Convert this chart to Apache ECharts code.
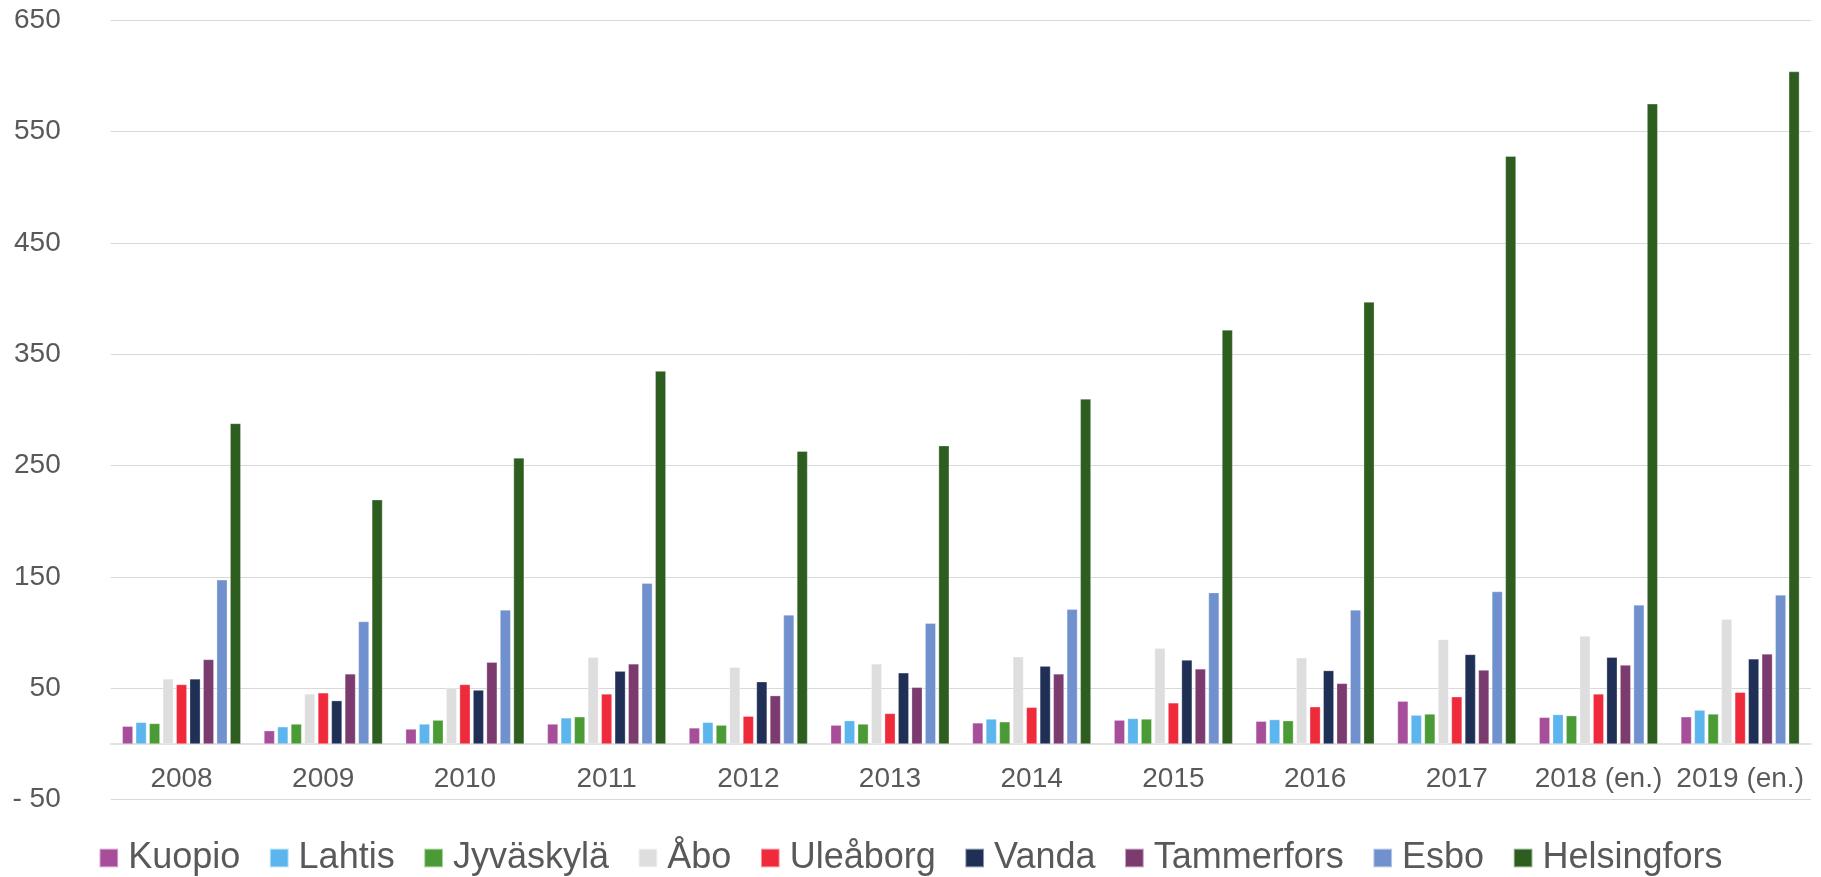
<!DOCTYPE html>
<html>
<head>
<meta charset="utf-8">
<script src="https://cdn.jsdelivr.net/npm/echarts@6/dist/echarts.min.js"></script>
<style>
html,body{margin:0;padding:0;background:#fff;}
#chart{width:1821px;height:877px;}
</style>
</head>
<body>
<div id="chart"></div>
<script>
const categories = ['2008','2009','2010','2011','2012','2013','2014','2015','2016','2017','2018 (en.)','2019 (en.)'];
const seriesNames = ['Kuopio','Lahtis','Jyväskylä','Åbo','Uleåborg','Vanda','Tammerfors','Esbo','Helsingfors'];
const kuopio      = [16, 12, 13.5, 18, 14.5, 17, 19, 21.5, 20.5, 38.5, 24, 24.5];
const lahtis      = [19.5, 15.5, 18, 23.5, 19.5, 21, 22.5, 23, 22, 26, 26.5, 30.5];
const jyvaskyla   = [18.5, 18, 21.5, 24.5, 17, 18, 20, 22.5, 21, 27, 25.5, 27];
const abo         = [58.5, 45, 50.5, 78, 69, 72, 78.5, 86, 77.5, 94, 97, 112];
const uleaborg    = [53.5, 46, 53.5, 45, 25, 27.5, 33, 37, 33.5, 42.5, 45, 46.5];
const vanda       = [58.5, 39, 48.5, 65.5, 56, 64, 70, 75.5, 66, 80.5, 78, 76.5];
const tammerfors  = [76, 63, 73.5, 72, 43.5, 51, 63, 67.5, 54.5, 66.5, 71, 81];
const esbo        = [147.5, 110, 120.5, 144.5, 116, 108.5, 121, 136, 120.5, 137, 125, 134];
const helsingfors = [288, 219.5, 257, 335, 263, 268, 310, 372, 397, 528, 575, 604];
const yTicks = {min: -50, max: 650, interval: 100};

const colors = ['#A64E9A','#5CB5EC','#4A9B36','#DEDEDE','#EE2A3B','#1F2F55','#7B3B6F','#7191CE','#2D5E20'];
const dataSets = [kuopio, lahtis, jyvaskyla, abo, uleaborg, vanda, tammerfors, esbo, helsingfors];
const FONT = '"Liberation Sans", Arial, sans-serif';

const chart = echarts.init(document.getElementById('chart'));
chart.setOption({
  animation: false,
  color: colors,
  grid: {left: 110.7, right: 10, top: 20.3, bottom: 77.3, containLabel: false},
  legend: {
    data: seriesNames,
    left: 'center',
    top: 840,
    padding: 0,
    icon: 'rect',
    itemWidth: 18.7,
    itemHeight: 18.7,
    itemGap: 28.6,
    textStyle: {fontFamily: FONT, fontSize: 36, color: '#595959', padding: [0,0,0,5]}
  },
  xAxis: {
    type: 'category',
    data: categories,
    axisLine: {onZero: true, lineStyle: {color: '#D9D9D9', width: 1.5}},
    axisTick: {show: false},
    axisLabel: {interval: 0, margin: -34, fontFamily: FONT, fontSize: 28, color: '#595959'}
  },
  yAxis: {
    type: 'value',
    min: yTicks.min,
    max: yTicks.max,
    interval: yTicks.interval,
    axisLine: {show: false},
    axisTick: {show: false},
    splitLine: {lineStyle: {color: '#D9D9D9', width: 1}},
    axisLabel: {
      margin: 50,
      fontFamily: FONT, fontSize: 28, color: '#595959',
      formatter: v => v < 0 ? '- ' + Math.abs(v) : String(v)
    }
  },
  series: seriesNames.map((n, i) => ({
    name: n,
    type: 'bar',
    data: dataSets[i],
    barWidth: 10.7,
    barGap: '26%',
    itemStyle: {color: colors[i], borderColor: 'rgba(255,255,255,0.5)', borderWidth: 0.6}
  }))
});
</script>
</body>
</html>
